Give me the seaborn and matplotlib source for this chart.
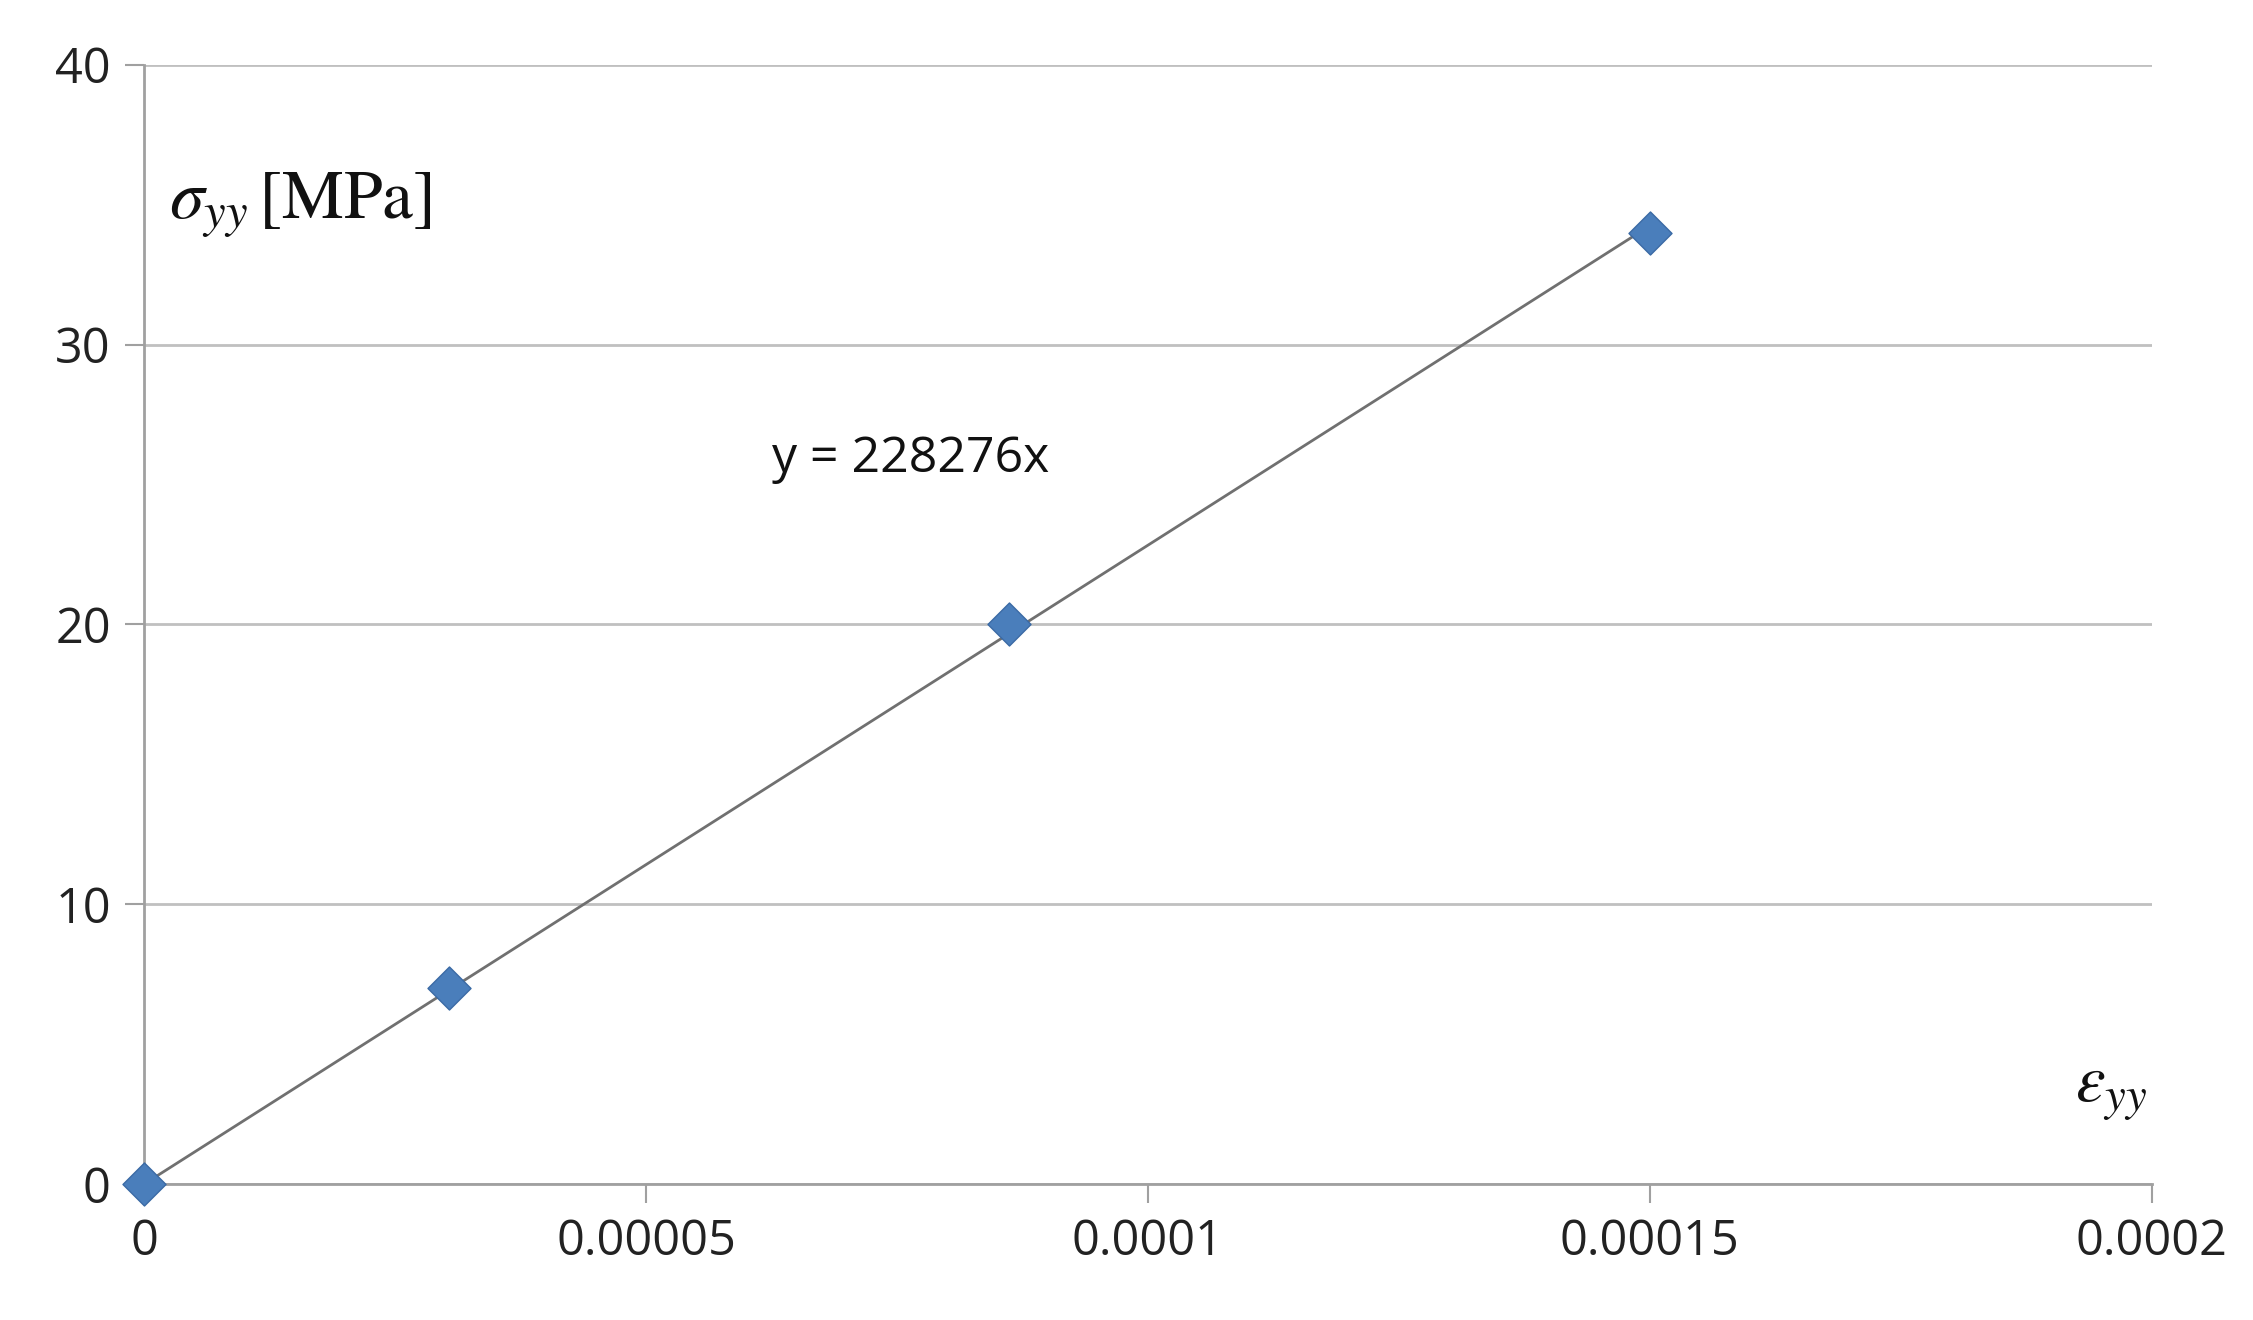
import numpy as np
import pandas as pd
import matplotlib
matplotlib.use("Agg")
import matplotlib.pyplot as plt
import seaborn as sns

# data
strain = [0.0, 0.0000304, 0.0000862, 0.00015]
stress = [0.0, 7.0, 20.0, 34.0]
slope = 228276
x_ticks = [0, 0.00005, 0.0001, 0.00015, 0.0002]
x_labels = ["0", "0.00005", "0.0001", "0.00015", "0.0002"]
y_ticks = [0, 10, 20, 30, 40]

sns.set_theme(style="white")
plt.rcParams["font.family"] = ["Open Sans", "DejaVu Sans"]
plt.rcParams["mathtext.fontset"] = "stix"

df = pd.DataFrame({"strain": strain, "stress": stress})

fig = plt.figure(figsize=(22.53, 13.2), dpi=100)
ax = fig.add_axes([0.064, 0.103, 0.891, 0.848])

# trendline through origin
fit_x = np.array([0.0, max(strain)])
ax.plot(fit_x, slope * fit_x, color="#707070", lw=2, zorder=2)

sns.scatterplot(data=df, x="strain", y="stress", marker="D", s=480,
                color="#4a7ebb", edgecolor="#3a6aa5", linewidth=1, ax=ax, zorder=3,
                clip_on=False)

ax.set_xlim(0, 0.0002)
ax.set_ylim(0, 40)
ax.set_xticks(x_ticks)
ax.set_xticklabels(x_labels)
ax.set_yticks(y_ticks)
ax.set_xlabel("")
ax.set_ylabel("")
ax.tick_params(axis="both", labelsize=35, colors="#222222", length=14, width=1.5,
               color="#a0a0a0", pad=10)
ax.tick_params(axis="x", direction="out", bottom=True)
ax.tick_params(axis="y", direction="out", left=True)
ax.yaxis.grid(True, color="#c0c0c0", lw=2)
for side in ["top", "right"]:
    ax.spines[side].set_visible(False)
for side in ["left", "bottom"]:
    ax.spines[side].set_color("#a0a0a0")
    ax.spines[side].set_linewidth(2)

ax.text(0.0000025, 35, r"$\sigma_{yy}\,\mathrm{[MPa]}$", fontsize=50, color="#111111", va="center")
ax.text(0.000196, 3.4, r"$\varepsilon_{yy}$", fontsize=48, color="#111111", va="center", ha="center")
ax.text(0.0000625, 25.9, "y = 228276x", fontsize=36, color="#111111", va="center")

fig.savefig("out.png", dpi=100)
